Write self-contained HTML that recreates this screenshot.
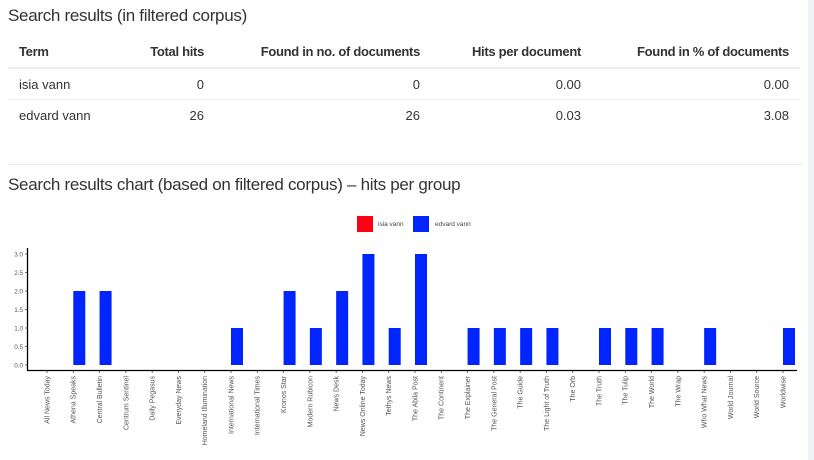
<!DOCTYPE html>
<html><head><meta charset="utf-8"><style>
body{margin:0;width:814px;height:460px;overflow:hidden;background:#fff;font-family:"Liberation Sans",sans-serif;color:#333;position:relative}
.h{position:absolute;left:8px;font-size:17px;color:#333;letter-spacing:-0.3px}
table{position:absolute;left:8px;top:36px;border-collapse:collapse;font-size:13px}
td,th{padding:0 11px;height:30px;text-align:right}
th{font-weight:bold;border-bottom:2px solid #eee;height:31px;letter-spacing:-0.3px}
td:first-child,th:first-child{text-align:left}
tr.r td{border-bottom:1px solid #eee}
</style></head><body>
<div class="h" style="top:6px">Search results (in filtered corpus)</div>
<table>
<tr><th style="width:103px">Term</th><th style="width:60px">Total hits</th><th style="width:194px">Found in no. of documents</th><th style="width:139px">Hits per document</th><th style="width:186px">Found in % of documents</th></tr>
<tr class="r"><td>isia vann</td><td>0</td><td>0</td><td>0.00</td><td>0.00</td></tr>
<tr><td>edvard vann</td><td>26</td><td>26</td><td>0.03</td><td>3.08</td></tr>
</table>
<div style="position:absolute;left:8px;top:164px;width:794px;height:1px;background:#e8e8e8"></div>
<div class="h" style="top:175px">Search results chart (based on filtered corpus) – hits per group</div>
<div style="position:absolute;left:808px;top:0;width:6px;height:460px;background:#f0f2f5"></div>
<svg id="c" width="814" height="460" style="position:absolute;left:0;top:0"></svg>
<script>
const categories=["All News Today","Athena Speaks","Central Bulletin","Centrum Sentinel","Daily Pegasus","Everyday News","Homeland Illumination","International News","International Times","Kronos Star","Modern Rubicon","News Desk","News Online Today","Tethys News","The Abila Post","The Continent","The Explainer","The General Post","The Guide","The Light of Truth","The Orb","The Truth","The Tulip","The World","The Wrap","Who What News","World Journal","World Source","Worldwise"];
const isiaValues=[0,0,0,0,0,0,0,0,0,0,0,0,0,0,0,0,0,0,0,0,0,0,0,0,0,0,0,0,0];
const edvardValues=[0,2,2,0,0,0,0,1,0,2,1,2,3,1,3,0,1,1,1,1,0,1,1,1,0,1,0,0,1];
const yTicks=[0,0.5,1,1.5,2,2.5,3];
const yTickLabels=["0.0","0.5","1.0","1.5","2.0","2.5","3.0"];
const svg=document.getElementById('c');const NS='http://www.w3.org/2000/svg';
function mk(t,a,p){const e=document.createElementNS(NS,t);for(const k in a)e.setAttribute(k,a[k]);(p||svg).appendChild(e);return e;}
const y=v=>365-v*37, x=i=>47+i*(783-47)/(categories.length-1);
let e;
e=mk('line',{x1:27.5,y1:248,x2:27.5,y2:370.5,stroke:'#000','stroke-width':1.3});


e=mk('line',{x1:27,y1:370.5,x2:797,y2:370.5,stroke:'#000','stroke-width':1.3});


yTicks.forEach((v,i)=>{
 mk('line',{x1:25,x2:27.5,y1:y(v),y2:y(v),stroke:'#333','stroke-width':0.7});
 e=mk('text',{x:23,y:y(v)+2.3,'font-size':6.3,'text-anchor':'end',fill:'#555'});e.textContent=yTickLabels[i];
 
 
});
categories.forEach((c,i)=>{
 const cx=x(i);
 mk('line',{x1:cx,x2:cx,y1:370.5,y2:373,stroke:'#333','stroke-width':0.7});
 e=mk('text',{x:0,y:0,'font-size':7,'text-anchor':'end',fill:'#555',transform:`translate(${cx+2.4},376) rotate(-90)`});e.textContent=c;
 
 
 if(isiaValues[i]>0){e=mk('rect',{x:cx-12,y:y(isiaValues[i]),width:12,height:y(0)-y(isiaValues[i]),fill:'#ff0017'});
 
 }
 if(edvardValues[i]>0){e=mk('rect',{x:cx,y:y(edvardValues[i]),width:12,height:y(0)-y(edvardValues[i]),fill:'#0025ff'});
 
 }
});
e=mk('rect',{x:357,y:216,width:16,height:16,fill:'#ff0017'});


e=mk('text',{x:378,y:226,'font-size':6.5,fill:'#444'});e.textContent='isia vann';


e=mk('rect',{x:413,y:216,width:16,height:16,fill:'#0025ff'});


e=mk('text',{x:435,y:226,'font-size':6.5,fill:'#444'});e.textContent='edvard vann';


</script>
</body></html>
